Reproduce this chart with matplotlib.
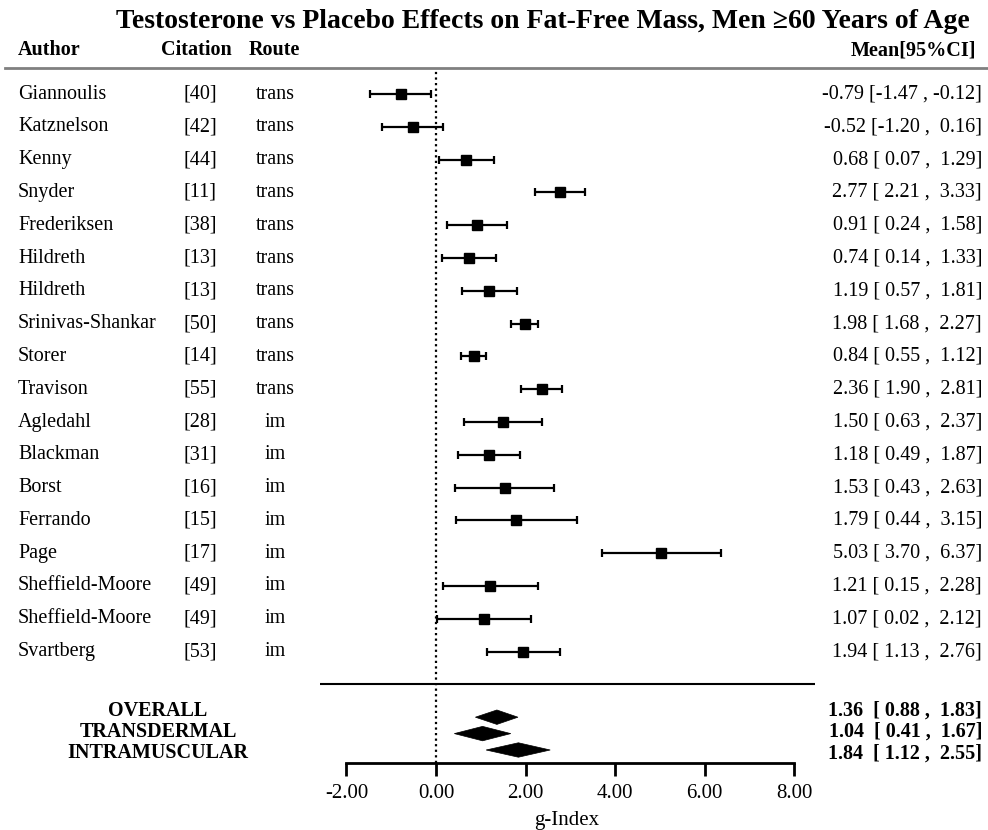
import numpy as np
import matplotlib
matplotlib.use("Agg")
import matplotlib.pyplot as plt
import matplotlib.transforms as mtransforms
from matplotlib.lines import Line2D

plt.rcParams['font.family'] = ['Liberation Serif', 'DejaVu Serif']

authors = ["Giannoulis", "Katznelson", "Kenny", "Snyder", "Frederiksen", "Hildreth",
           "Hildreth", "Srinivas-Shankar", "Storer", "Travison", "Agledahl", "Blackman",
           "Borst", "Ferrando", "Page", "Sheffield-Moore", "Sheffield-Moore", "Svartberg"]
citations = ["[40]", "[42]", "[44]", "[11]", "[38]", "[13]", "[13]", "[50]", "[14]",
             "[55]", "[28]", "[31]", "[16]", "[15]", "[17]", "[49]", "[49]", "[53]"]
routes = ["trans"] * 10 + ["im"] * 8
means = np.array([-0.79, -0.52, 0.68, 2.77, 0.91, 0.74, 1.19, 1.98, 0.84, 2.36,
                  1.50, 1.18, 1.53, 1.79, 5.03, 1.21, 1.07, 1.94])
lows = np.array([-1.47, -1.20, 0.07, 2.21, 0.24, 0.14, 0.57, 1.68, 0.55, 1.90,
                 0.63, 0.49, 0.43, 0.44, 3.70, 0.15, 0.02, 1.13])
highs = np.array([-0.12, 0.16, 1.29, 3.33, 1.58, 1.33, 1.81, 2.27, 1.12, 2.81,
                  2.37, 1.87, 2.63, 3.15, 6.37, 2.28, 2.12, 2.76])

summary_labels = ["OVERALL", "TRANSDERMAL", "INTRAMUSCULAR"]
summary_means = np.array([1.36, 1.04, 1.84])
summary_lows = np.array([0.88, 0.41, 1.12])
summary_highs = np.array([1.83, 1.67, 2.55])

W, H = 988, 830
fig = plt.figure(figsize=(W / 100, H / 100), dpi=100)

# pixel layout
row0, step = 94, 32.8
top_px, axis_px = 68, 763
ax = fig.add_axes([319.5 / W, 1 - axis_px / H, 495 / W, (axis_px - top_px) / H])
ax.set_xlim(-2.6, 8.45)
ax.set_ylim((axis_px - row0) / step, (top_px - row0) / step)

rows = np.arange(len(authors))
ax.errorbar(means, rows, xerr=[means - lows, highs - means], fmt='s', color='black',
            ms=6.5, capsize=3, elinewidth=1.6, capthick=1.6)
ax.axvline(0, color='black', linestyle=(0, (1, 1.5)), lw=1.6)
ax.axhline(18.0, color='black', lw=1.5)

sum_rows = np.array([19.0, 19.5, 20.0])
h = 0.22
for m, lo, hi, y in zip(summary_means, summary_lows, summary_highs, sum_rows):
    ax.fill([lo, m, hi, m], [y, y - h, y, y + h], color='black', lw=0.5)

for s in ['top', 'right', 'left']:
    ax.spines[s].set_visible(False)
ax.spines['bottom'].set_bounds(-2, 8)
ax.spines['bottom'].set_linewidth(2)
ax.set_yticks([])
ax.set_xticks(np.arange(-2, 9, 2))
ax.set_xticklabels([f"{v:.2f}" for v in np.arange(-2, 9, 2)])
ax.tick_params(axis='x', direction='out', length=9, width=2, pad=6, labelsize=15)
ax.set_xlabel("g-Index", fontsize=15, labelpad=6)

tr = mtransforms.blended_transform_factory(fig.transFigure, ax.transData)
fs = 14.5
for i in rows:
    ax.text(18 / W, i, authors[i], transform=tr, ha='left', va='center', fontsize=fs)
    ax.text(200 / W, i, citations[i], transform=tr, ha='center', va='center', fontsize=fs)
    ax.text(275 / W, i, routes[i], transform=tr, ha='center', va='center', fontsize=fs)
    ax.text(982 / W, i, f"{means[i]:.2f} [{lows[i]:5.2f} , {highs[i]:5.2f}]",
            transform=tr, ha='right', va='center', fontsize=fs)

text_rows = [18.8, 19.45, 20.1]
for lab, m, lo, hi, y in zip(summary_labels, summary_means, summary_lows, summary_highs, text_rows):
    ax.text(158 / W, y, lab, transform=tr, ha='center', va='center', fontsize=fs,
            fontweight='bold')
    ax.text(982 / W, y, f"{m:.2f}  [{lo:5.2f} , {hi:5.2f}]", transform=tr, ha='right',
            va='center', fontsize=fs, fontweight='bold')

# header
hy = 1 - 50 / H
fig.text(18 / W, hy, "Author", ha='left', va='center', fontsize=fs, fontweight='bold')
fig.text(196 / W, hy, "Citation", ha='center', va='center', fontsize=fs, fontweight='bold')
fig.text(274 / W, hy, "Route", ha='center', va='center', fontsize=fs, fontweight='bold')
fig.text(976 / W, hy, "Mean[95%CI]", ha='right', va='center', fontsize=fs, fontweight='bold')
fig.add_artist(Line2D([5 / W, 1], [1 - 68 / H, 1 - 68 / H], color='#808080', lw=2,
                      transform=fig.transFigure))

fig.text(543 / W, 1 - 21 / H,
         "Testosterone vs Placebo Effects on Fat-Free Mass, Men \u226560 Years of Age",
         ha='center', va='center', fontsize=20, fontweight='bold')

fig.savefig("out.png", dpi=100)
